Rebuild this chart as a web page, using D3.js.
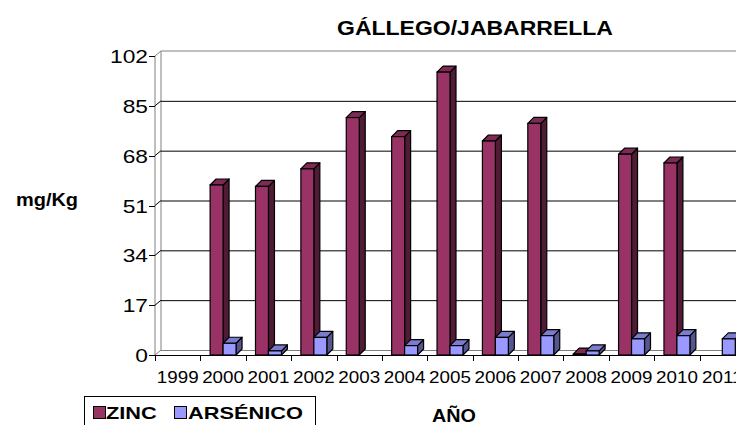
<!DOCTYPE html>
<html>
<head>
<meta charset="utf-8">
<script src="https://cdn.jsdelivr.net/npm/d3@7"></script>
<style>
body{margin:0;background:#fff;}
svg{display:block;font-family:"Liberation Sans",Arial,sans-serif;}
</style>
</head>
<body>
<svg width="736" height="425"></svg>
<script>
var years=['1999','2000','2001','2002','2003','2004','2005','2006','2007','2008','2009','2010','2011'];
var zinc=[null,58,57.5,63.5,81,74.5,96.5,73,79,0.3,68.5,65.5,null];
var arsenico=[null,4,1.4,6,null,3.2,3.2,6,6.6,1.4,5.5,6.6,5.5];
var yTicks=[0,17,34,51,68,85,102];
var seriesNames=['ZINC','ARSÉNICO'];

var colors={
    zinc:{front:'#993366',side:'#4f1b35',top:'#7d2a54'},
    ars:{front:'#9999ff',side:'#55558f',top:'#7b7bcf'}
};

var plotLeft=155, plotRight=745, plotBottom=355, plotTop=56;
var wdx=6, wdy=-5;   // wall depth
var bdx=6, bdy=-6;   // bar depth

var svg=d3.select('svg');
var x=d3.scaleBand().domain(years).range([plotLeft,plotRight]).paddingInner(0).paddingOuter(0);
var y=d3.scaleLinear().domain([0,102]).range([plotBottom,plotTop]);
var bw=x.bandwidth()/3.5;

function stretchText(txt,tx,ty,size,sx,weight,anchor){
    svg.append('text')
    .attr('transform','translate('+tx+','+ty+') scale('+sx+',1)')
    .attr('font-size',size)
    .attr('font-weight',weight)
    .attr('text-anchor',anchor)
    .attr('fill','#000')
    .text(txt);
}

function drawWalls(){
    // back wall outline
    svg.append('line').attr('x1',plotLeft+wdx).attr('x2',plotRight+wdx).attr('y1',y(102)+wdy).attr('y2',y(102)+wdy)
    .attr('stroke','#808080');
    svg.append('line').attr('x1',plotLeft+wdx).attr('x2',plotLeft+wdx).attr('y1',y(102)+wdy).attr('y2',y(0)+wdy)
    .attr('stroke','#808080');
    svg.append('line').attr('x1',plotLeft).attr('x2',plotLeft).attr('y1',y(102)).attr('y2',y(0))
    .attr('stroke','#808080');
    svg.append('line').attr('x1',plotLeft).attr('x2',plotLeft+wdx).attr('y1',y(102)).attr('y2',y(102)+wdy)
    .attr('stroke','#808080');

    // gridlines on back wall and side wall
    for(var i=1;i<yTicks.length-1;i++){
        var gy=y(yTicks[i]);
        svg.append('line').attr('x1',plotLeft+wdx).attr('x2',plotRight+wdx).attr('y1',gy+wdy+0.5).attr('y2',gy+wdy+0.5)
        .attr('stroke','#000').attr('stroke-width',1);
        svg.append('line').attr('x1',plotLeft).attr('x2',plotLeft+wdx).attr('y1',gy).attr('y2',gy+wdy)
        .attr('stroke','#000').attr('stroke-width',1);
    }

    // floor
    svg.append('line').attr('x1',plotLeft+wdx).attr('x2',plotRight+wdx).attr('y1',y(0)+wdy+0.5).attr('y2',y(0)+wdy+0.5)
    .attr('stroke','#808080');
    svg.append('line').attr('x1',plotLeft).attr('x2',plotLeft+wdx).attr('y1',y(0)).attr('y2',y(0)+wdy)
    .attr('stroke','#808080');
}

function drawBar(bx,v,c){
    if(v===null){return;}
    var y0=y(0), y1=y(v);
    svg.append('polygon')
    .attr('points',[[bx+bw,y1],[bx+bw+bdx,y1+bdy],[bx+bw+bdx,y0+bdy],[bx+bw,y0]].join(' '))
    .attr('fill',c.side).attr('stroke','#000').attr('stroke-width',1.2).attr('stroke-linejoin','round');
    svg.append('polygon')
    .attr('points',[[bx,y1],[bx+bdx,y1+bdy],[bx+bw+bdx,y1+bdy],[bx+bw,y1]].join(' '))
    .attr('fill',c.top).attr('stroke','#000').attr('stroke-width',1.2).attr('stroke-linejoin','round');
    svg.append('rect')
    .attr('x',bx).attr('y',y1).attr('width',bw).attr('height',y0-y1)
    .attr('fill',c.front).attr('stroke','#000').attr('stroke-width',1.2);
}

function drawAxes(){
    svg.append('line').attr('x1',plotLeft).attr('x2',plotRight).attr('y1',y(0)+0.5).attr('y2',y(0)+0.5)
    .attr('stroke','#000');
    for(var i=0;i<yTicks.length;i++){
        var ty=Math.round(y(yTicks[i]))+0.5;
        svg.append('line').attr('x1',plotLeft-6).attr('x2',plotLeft).attr('y1',ty).attr('y2',ty).attr('stroke','#000');
        stretchText(yTicks[i],148,ty+6,17.5,1.3,'normal','end');
    }
    for(i=0;i<=years.length;i++){
        var tx=Math.round(plotLeft+i*x.bandwidth())+0.5;
        svg.append('line').attr('x1',tx).attr('x2',tx).attr('y1',y(0)).attr('y2',y(0)+6).attr('stroke','#000');
    }
    for(i=0;i<years.length;i++){
        stretchText(years[i],x(years[i])+x.bandwidth()/2,383,16.8,1.12,'normal','middle');
    }
}

function drawLegend(){
    svg.append('rect').attr('x',84.5).attr('y',396.5).attr('width',231).attr('height',40)
    .attr('fill','#fff').attr('stroke','#000');
    var lx=[93,174];
    var tx=[106,188];
    var cs=[colors.zinc,colors.ars];
    for(var i=0;i<2;i++){
        svg.append('rect').attr('x',lx[i]+0.5).attr('y',406.5).attr('width',12).attr('height',12)
        .attr('fill',cs[i].front).attr('stroke','#000');
        stretchText(seriesNames[i],tx[i],419,17,1.28,'bold','start');
    }
}

drawWalls();
for(var k=0;k<years.length;k++){
    var x0=x(years[k]);
    drawBar(x0+0.75*bw,zinc[k],colors.zinc);
    drawBar(x0+1.75*bw,arsenico[k],colors.ars);
}
drawAxes();
drawLegend();

stretchText('GÁLLEGO/JABARRELLA',475,35,20,1.15,'bold','middle');
stretchText('mg/Kg',47,206,18.5,1.08,'bold','middle');
stretchText('AÑO',454,422,18.5,1.07,'bold','middle');
</script>
</body>
</html>
